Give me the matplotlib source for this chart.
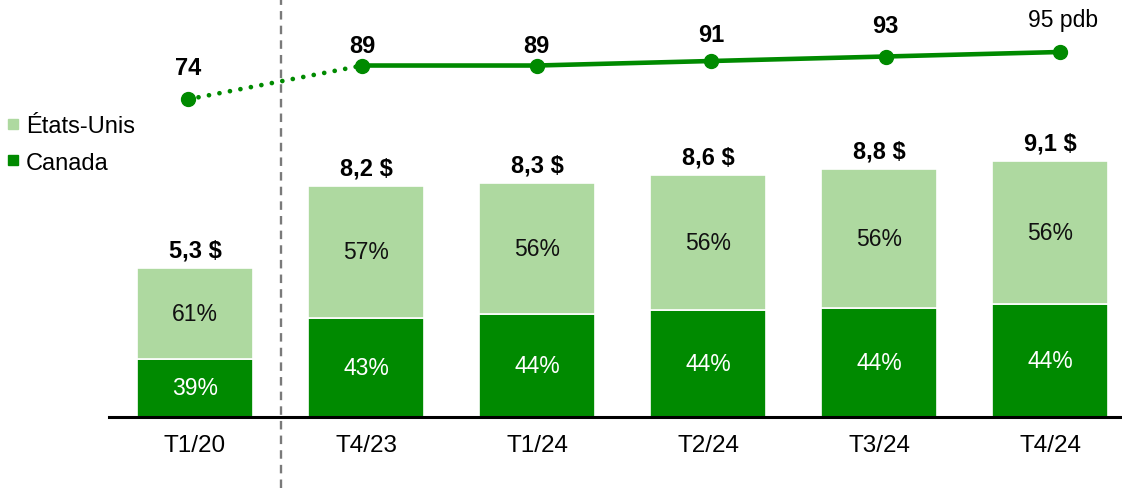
import matplotlib
matplotlib.use("Agg")
import matplotlib.pyplot as plt
from matplotlib.lines import Line2D

plt.rcParams['font.family'] = ['Liberation Sans', 'DejaVu Sans']

categories = ["T1/20", "T4/23", "T1/24", "T2/24", "T3/24", "T4/24"]
totals = [5.3, 8.2, 8.3, 8.6, 8.8, 9.1]
canada_pct = [39, 43, 44, 44, 44, 44]
us_pct = [61, 57, 56, 56, 56, 56]
total_labels = ["5,3 $", "8,2 $", "8,3 $", "8,6 $", "8,8 $", "9,1 $"]
line_values = [74, 89, 89, 91, 93, 95]
line_labels = ["74", "89", "89", "91", "93", "95 pdb"]
line_label_offsets = [32, 20, 20, 27, 31, 32]  # px above point

DARK = "#008A00"
LIGHT = "#AED9A0"

W, H = 1122, 489
fig = plt.figure(figsize=(W / 100, H / 100), dpi=100)

ax_l = 109 / W
ax_b = 71 / H
ax_h = 418 / H
ax = fig.add_axes([ax_l, ax_b, 1 - ax_l, ax_h])
x = list(range(len(categories)))
canada_vals = [t * c / 100 for t, c in zip(totals, canada_pct)]
us_vals = [t - c for t, c in zip(totals, canada_vals)]

ax.bar(x, canada_vals, width=0.68, color=DARK, edgecolor="white", linewidth=1.2)
ax.bar(x, us_vals, bottom=canada_vals, width=0.68, color=LIGHT, edgecolor="white", linewidth=1.2)
ax.set_xlim(-0.503, 5.421)
ax.set_ylim(0, 418 / 28.15)

for i in x:
    ax.text(i, canada_vals[i] / 2, f"{canada_pct[i]}%", ha="center", va="center",
            color="white", fontsize=16.5)
    ax.text(i, canada_vals[i] + us_vals[i] / 2, f"{us_pct[i]}%", ha="center", va="center",
            color="#111111", fontsize=16.5)
    ax.annotate(total_labels[i], (i, totals[i]), xytext=(0, 13), textcoords="offset points",
                ha="center", va="center", fontsize=17, fontweight="bold")

for s in ["top", "right", "left"]:
    ax.spines[s].set_visible(False)
ax.spines["bottom"].set_linewidth(2.2)
ax.spines["bottom"].set_color("#000000")
ax.set_yticks([])
ax.set_xticks(x)
ax.set_xticklabels(categories, fontsize=17.5)
ax.tick_params(axis="x", length=0, pad=12)

ax.axvline(0.5, ymin=-0.17, ymax=1.0, color="#7a7a7a", linewidth=1.7,
           linestyle=(0, (3.6, 2.6)), clip_on=False)

# line axes
lax = fig.add_axes([ax_l, ax_b, 1 - ax_l, ax_h])
lax.set_facecolor("none")
lax.axis("off")
lax.set_xlim(-0.453, 5.356)
px_per = (100.3 - 53) / 21
lax.set_ylim(74 - (418 - 100.3) / px_per, 74 + 100.3 / px_per)
lx = list(range(len(line_values)))
lax.plot(lx[:2], line_values[:2], color=DARK, linewidth=3.4,
         linestyle=(0, (0.01, 2.25)), dash_capstyle="round")
lax.plot(lx[1:], line_values[1:], color=DARK, linewidth=3.3, solid_capstyle="butt")
lax.plot(lx, line_values, linestyle="none", marker="o", markersize=10,
         color=DARK)
for i, (v, lab, off) in enumerate(zip(line_values, line_labels, line_label_offsets)):
    weight = "normal" if "pdb" in lab else "bold"
    lax.annotate(lab, (lx[i], v), xytext=(2 if "pdb" in lab else 0, off * 0.72),
                 textcoords="offset points", ha="center", va="center",
                 fontsize=17 if weight == "bold" else 16.5, fontweight=weight)

handles = [Line2D([], [], linestyle="none", marker="s", markersize=7.2, color=LIGHT),
           Line2D([], [], linestyle="none", marker="s", markersize=7.2, color=DARK)]
fig.legend(handles, ["États-Unis", "Canada"], loc="upper left",
           bbox_to_anchor=(0.0, 1 - 109 / H), frameon=False, fontsize=17,
           handlelength=0.5, handletextpad=0.3, labelspacing=0.62,
           borderaxespad=0, borderpad=0.3)

fig.savefig("out.png", dpi=100)
